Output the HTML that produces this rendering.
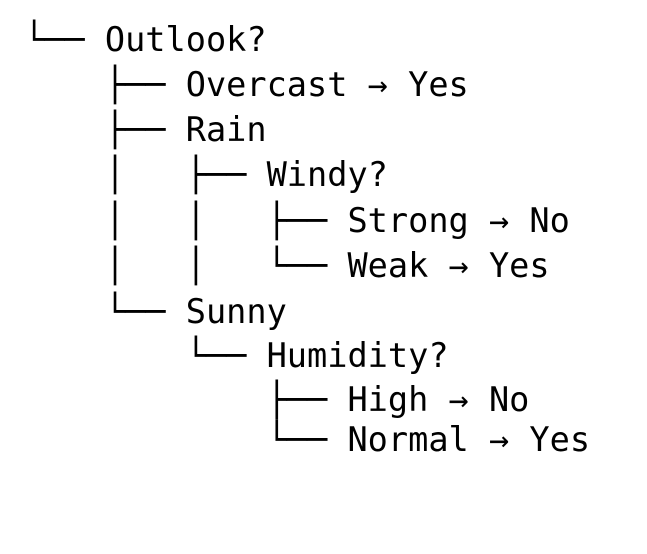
<!DOCTYPE html>
<html><head><meta charset="utf-8"><style>
body{margin:0;width:647px;height:554px;background:#fff;overflow:hidden;position:relative}
div{position:absolute;left:24px;font-family:"DejaVu Sans Mono","Liberation Mono",monospace;font-size:33.6px;line-height:40px;white-space:pre;color:#000}
</style></head><body>
<div style="top:20px">└── Outlook?</div>
<div style="top:65px">    ├── Overcast → Yes</div>
<div style="top:110px">    ├── Rain</div>
<div style="top:155px">    │   ├── Windy?</div>
<div style="top:201px">    │   │   ├── Strong → No</div>
<div style="top:246px">    │   │   └── Weak → Yes</div>
<div style="top:292px">    └── Sunny</div>
<div style="top:336px">        └── Humidity?</div>
<div style="top:380px">            ├── High → No</div>
<div style="top:420px">            └── Normal → Yes</div>
</body></html>
